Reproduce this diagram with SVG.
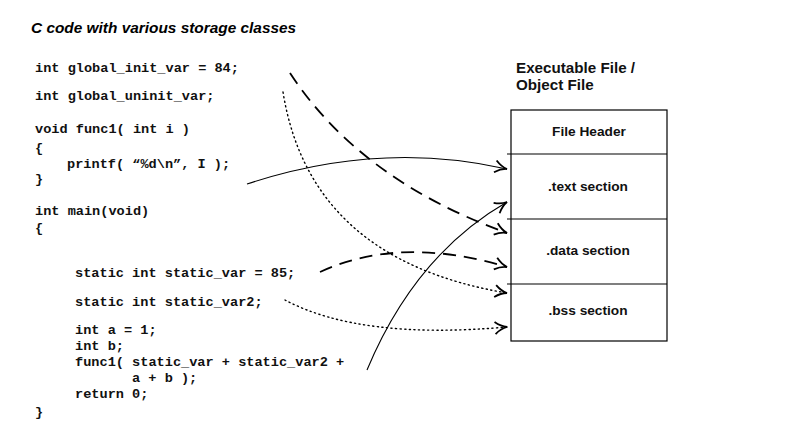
<svg xmlns="http://www.w3.org/2000/svg" width="790" height="429" viewBox="0 0 790 429">
<style>
.code{font-family:"Liberation Mono","Courier New",monospace;font-weight:bold;font-size:13.6px;fill:#111}
.title{font-family:"Liberation Sans",Arial,sans-serif;font-weight:bold;font-style:italic;font-size:15.4px;fill:#000}
.hdr{font-family:"Liberation Sans",Arial,sans-serif;font-weight:bold;font-size:15.2px;fill:#111}
.sec{font-family:"Liberation Sans",Arial,sans-serif;font-weight:bold;font-size:13.7px;fill:#111;text-anchor:middle}
.box{fill:#fff;stroke:#000;stroke-width:1.2}
.div{stroke:#000;stroke-width:1.2}
.solid{fill:none;stroke:#000;stroke-width:1.1}
.dash{fill:none;stroke:#000;stroke-width:1.8;stroke-dasharray:13 8}
.dot{fill:none;stroke:#000;stroke-width:1.4;stroke-dasharray:1.2 3.4;stroke-linecap:round}
</style>
<defs>
<marker id="arr" viewBox="0 0 14 14" refX="13" refY="7" markerWidth="14" markerHeight="14" markerUnits="userSpaceOnUse" orient="auto">
<path d="M1,1 Q7,6 13,7 Q7,8 1,13" fill="none" stroke="#000" stroke-width="1.8"/>
</marker>
</defs>
<rect width="790" height="429" fill="#fff"/>
<text class="title" x="31" y="33">C code with various storage classes</text>
<g id="code">
<text class="code" x="35" y="72">int global_init_var = 84;</text>
<text class="code" x="35" y="100">int global_uninit_var;</text>
<text class="code" x="35" y="133">void func1( int i )</text>
<text class="code" x="35" y="152">{</text>
<text class="code" x="67" y="168">printf( “%d\n”, I );</text>
<text class="code" x="35" y="183">}</text>
<text class="code" x="35" y="215">int main(void)</text>
<text class="code" x="35" y="232">{</text>
<text class="code" x="75" y="277">static int static_var = 85;</text>
<text class="code" x="75" y="306">static int static_var2;</text>
<text class="code" x="75" y="334">int a = 1;</text>
<text class="code" x="75" y="350">int b;</text>
<text class="code" x="75" y="366">func1( static_var + static_var2 +</text>
<text class="code" x="132" y="382">a + b );</text>
<text class="code" x="75" y="398">return 0;</text>
<text class="code" x="35" y="416">}</text>
</g>
<g id="file">
<text class="hdr" x="516" y="73">Executable File /</text>
<text class="hdr" x="516" y="90">Object File</text>
<rect class="box" x="511" y="110" width="156" height="231"/>
<line class="div" x1="507" y1="154" x2="667" y2="154"/>
<line class="div" x1="507" y1="219" x2="667" y2="219"/>
<line class="div" x1="507" y1="284" x2="667" y2="284"/>
</g>
<g id="header"><text class="sec" x="589" y="136">File Header</text></g>
<g id="text"><text class="sec" x="588" y="191">.text section</text></g>
<g id="data"><text class="sec" x="588" y="255">.data section</text></g>
<g id="bss"><text class="sec" x="588" y="315">.bss section</text></g>
<g id="connectors">
<path class="solid" d="M247,184 Q380,140 507,169" marker-end="url(#arr)"/>
<path class="dash" d="M290,73 Q360,180 507,233" marker-end="url(#arr)"/>
<path class="dot" d="M283,92 Q310,260 507,293" marker-end="url(#arr)"/>
<path class="dash" d="M320,272 Q400,235 507,267" marker-end="url(#arr)"/>
<path class="dot" d="M285,300 Q360,340 507,327" marker-end="url(#arr)"/>
<path class="solid" d="M367,370 Q415,255 507,202" marker-end="url(#arr)"/>
</g>
</svg>
